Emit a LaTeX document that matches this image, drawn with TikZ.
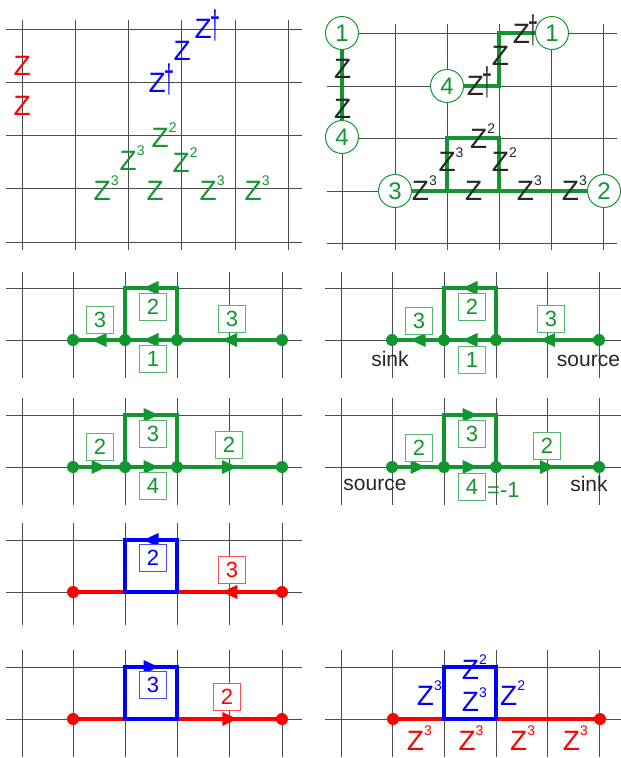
\documentclass[tikz,border=0pt]{standalone}
\usepackage{fontspec}
\setmainfont{Liberation Sans}
\usetikzlibrary{positioning,decorations.markings}
\definecolor{gr}{RGB}{17,150,48}
\newcommand{\Zs}[1]{Z\raisebox{0.52em}{\fontsize{14}{14}\selectfont #1}}
\newcommand{\Zd}{Z\kern-0.04em\scalebox{0.8}[1.8]{\fontsize{22}{22}\selectfont †}}

\begin{document}
\begin{tikzpicture}[x=1pt, y=-1pt,
    gridline/.style={draw=black!70, line width=1pt},
    ztext/.style={inner sep=0pt, anchor=base west, font=\fontsize{28}{28}\selectfont},
    numbox/.style={draw=#1!70, fill=white, text=#1, line width=0.8pt, minimum size=27pt, inner sep=0pt, font=\fontsize{22}{22}\selectfont},
    ring/.style={circle, draw=gr, fill=white, text=gr, line width=1pt, minimum size=33pt, inner sep=0pt, font=\fontsize{24}{24}\selectfont},
    dot/.style={circle, fill=#1, minimum size=12pt, inner sep=0pt},
    lane/.style={draw=#1, color=#1, line width=4.5pt},
    tri/.style={postaction={decorate}, decoration={markings, mark=at position #1 with {\fill (7.5pt,0pt) -- (-7.5pt,7pt) -- (-7.5pt,-7pt) -- cycle;}}},
    tag/.style={inner sep=0pt, anchor=base, font=\fontsize{21}{21}\selectfont, text=black!85}
]
\useasboundingbox (0,0) rectangle (621,758);

% Grids
\foreach \y in {29,82,135,188,242} \draw[gridline] (6,\y) -- (302,\y);
\foreach \x in {22,75,128,181,235,288} \draw[gridline] (\x,20) -- (\x,250);
\foreach \y in {33,86,138,191,243} \draw[gridline] (327,\y) -- (617,\y);
\foreach \x in {342,395,447,499,551,603} \draw[gridline] (\x,24) -- (\x,250);
\foreach \t/\u/\v in {288/272/378, 415/398/505, 540/523/625, 667/650/757} {
    \draw[gridline] (6,\t) -- (302,\t);
    \draw[gridline] (6,\t+52) -- (302,\t+52);
    \foreach \x in {22,73,125,177,229,282} \draw[gridline] (\x,\u) -- (\x,\v);
}
\foreach \t/\u/\v in {288/272/378, 415/398/505, 667/650/757} {
    \draw[gridline] (325,\t) -- (621,\t);
    \draw[gridline] (325,\t+52) -- (621,\t+52);
    \foreach \x in {341,392,444,496,547,599} \draw[gridline] (\x,\u) -- (\x,\v);
}

% Panel A: Z labels
\node[ztext, red] (ar1) at (13.5,75) {Z};
\node[ztext, red] (ar2) at (13.5,115) {Z};
\node[ztext, blue] (ab1) at (148.5,92) {\Zd};
\node[ztext, blue] (ab2) at (173.5,60) {Z};
\node[ztext, blue] (ab3) at (194.5,38) {\Zd};
\node[ztext, gr] (ag1) at (151.5,147) {\Zs{2}};
\node[ztext, gr] (ag2) at (119.5,170) {\Zs{3}};
\node[ztext, gr] (ag3) at (172.5,172) {\Zs{2}};
\node[ztext, gr] (ag4) at (93.5,200) {\Zs{3}};
\node[ztext, gr] (ag5) at (146.5,200) {Z};
\node[ztext, gr] (ag6) at (199.5,200) {\Zs{3}};
\node[ztext, gr] (ag7) at (244.5,200) {\Zs{3}};

% Panel B: glued lattice
\node[ring] (bq1) at (342,33) {1};
\node[ring] (bq4) at (342,137) {4};
\node[ring] (bp4) at (447,86) {4};
\node[ring] (bp1) at (552,33) {1};
\node[ring] (bp3) at (395,191) {3};
\node[ring] (bp2) at (604,191) {2};
\coordinate (bk1) at (499,86);
\coordinate (bk2) at (499,33);
\coordinate (bs1) at (447,191);
\coordinate (bs2) at (447,138);
\coordinate (bs3) at (499,138);
\coordinate (bs4) at (499,191);
\draw[lane=gr] (bq1) -- (bq4);
\draw[lane=gr] (bp4) -- (bk1) -- (bk2) -- (bp1);
\draw[lane=gr] (bp3) -- (bp2);
\draw[lane=gr] (bs1) -- (bs2) -- (bs3) -- (bs4);
\node[ztext, black!85] (bz1) at (334,78) {Z};
\node[ztext, black!85] (bz2) at (334,118) {Z};
\node[ztext, black!85] (bz3) at (466.7,95) {\Zd};
\node[ztext, black!85] (bz4) at (491.7,65) {Z};
\node[ztext, black!85] (bz5) at (512.7,43) {\Zd};
\node[ztext, black!85] (bz6) at (470,148) {\Zs{2}};
\node[ztext, black!85] (bz7) at (438.3,171.7) {\Zs{3}};
\node[ztext, black!85] (bz8) at (491.7,171.7) {\Zs{2}};
\node[ztext, black!85] (bz9) at (411.7,200) {\Zs{3}};
\node[ztext, black!85] (bz10) at (465,200) {Z};
\node[ztext, black!85] (bz11) at (516.7,200) {\Zs{3}};
\node[ztext, black!85] (bz12) at (561.7,200) {\Zs{3}};

% Panel C: flow to the left
\node[dot=gr] (ca) at (73,340) {};
\node[dot=gr] (cb) at (125,340) {};
\node[dot=gr] (cc) at (177,340) {};
\node[dot=gr] (cd) at (282,340) {};
\coordinate (cu1) at (125,288);
\coordinate (cu2) at (177,288);
\draw[lane=gr, tri=0.5] (cd.center) -- (cc.center);
\draw[lane=gr, tri=0.5] (cc.center) -- (cb.center);
\draw[lane=gr, tri=0.5] (cb.center) -- (ca.center);
\draw[lane=gr, tri=0.5] (cc.center) -- (cu2) -- (cu1) -- (cb.center);
\node[numbox=gr] (cn1) at (100,320) {3};
\node[numbox=gr] (cn2) at (153,307) {2};
\node[numbox=gr] (cn3) at (153,359) {1};
\node[numbox=gr] (cn4) at (232,319) {3};

% Panel D: same, with sink and source
\node[dot=gr] (da) at (392,340) {};
\node[dot=gr] (db) at (444,340) {};
\node[dot=gr] (dc) at (496,340) {};
\node[dot=gr] (dd) at (599,340) {};
\coordinate (du1) at (444,288);
\coordinate (du2) at (496,288);
\draw[lane=gr, tri=0.5] (dd.center) -- (dc.center);
\draw[lane=gr, tri=0.5] (dc.center) -- (db.center);
\draw[lane=gr, tri=0.5] (db.center) -- (da.center);
\draw[lane=gr, tri=0.5] (dc.center) -- (du2) -- (du1) -- (db.center);
\node[numbox=gr] (dn1) at (419,321) {3};
\node[numbox=gr] (dn2) at (472,307) {2};
\node[numbox=gr] (dn3) at (472,360) {1};
\node[numbox=gr] (dn4) at (551,319) {3};
\node[tag] (dsink) at (390,366) {sink};
\node[tag] (dsource) at (588.5,366) {source};

% Panel E: flow to the right
\node[dot=gr] (ea) at (73,467) {};
\node[dot=gr] (eb) at (125,467) {};
\node[dot=gr] (ec) at (177,467) {};
\node[dot=gr] (ed) at (282,467) {};
\coordinate (eu1) at (125,415);
\coordinate (eu2) at (177,415);
\draw[lane=gr, tri=0.5] (ea.center) -- (eb.center);
\draw[lane=gr, tri=0.5] (eb.center) -- (ec.center);
\draw[lane=gr, tri=0.5] (ec.center) -- (ed.center);
\draw[lane=gr, tri=0.5] (eb.center) -- (eu1) -- (eu2) -- (ec.center);
\node[numbox=gr] (en1) at (100,447) {2};
\node[numbox=gr] (en2) at (153,434) {3};
\node[numbox=gr] (en3) at (153,486) {4};
\node[numbox=gr] (en4) at (229,445) {2};

% Panel F: same, with source and sink
\node[dot=gr] (fa) at (392,467) {};
\node[dot=gr] (fb) at (444,467) {};
\node[dot=gr] (fc) at (496,467) {};
\node[dot=gr] (fd) at (599,467) {};
\coordinate (fu1) at (444,415);
\coordinate (fu2) at (496,415);
\draw[lane=gr, tri=0.5] (fa.center) -- (fb.center);
\draw[lane=gr, tri=0.5] (fb.center) -- (fc.center);
\draw[lane=gr, tri=0.5] (fc.center) -- (fd.center);
\draw[lane=gr, tri=0.5] (fb.center) -- (fu1) -- (fu2) -- (fc.center);
\node[numbox=gr] (fn1) at (419,448) {2};
\node[numbox=gr] (fn2) at (472,434) {3};
\node[numbox=gr] (fn3) at (472,487) {4};
\node[numbox=gr] (fn4) at (547,446) {2};
\node[inner sep=0pt, anchor=base west, text=gr, font=\fontsize{22}{22}\selectfont] (feq) at (487,497) {=-1};
\node[tag] (fsource) at (375,490) {source};
\node[tag] (fsink) at (589,491) {sink};

% Panel G: red line, blue loop
\node[dot=red] (ga) at (73,592) {};
\node[dot=red] (gd) at (282,592) {};
\coordinate (gs1) at (125,592);
\coordinate (gs2) at (125,540);
\coordinate (gs3) at (177,540);
\coordinate (gs4) at (177,592);
\draw[lane=red, tri=0.25] (gd.center) -- (ga.center);
\draw[lane=blue, tri=0.375] (gs4) -- (gs3) -- (gs2) -- (gs1) -- cycle;
\node[numbox=blue] (gn1) at (153,558) {2};
\node[numbox=red] (gn2) at (232,570) {3};

% Panel H
\node[dot=red] (ha) at (73,719) {};
\node[dot=red] (hd) at (282,719) {};
\coordinate (hs1) at (125,719);
\coordinate (hs2) at (125,667);
\coordinate (hs3) at (177,667);
\coordinate (hs4) at (177,719);
\draw[lane=red, tri=0.75] (ha.center) -- (hd.center);
\draw[lane=blue, tri=0.375] (hs1) -- (hs2) -- (hs3) -- (hs4) -- cycle;
\node[numbox=blue] (hn1) at (153,685) {3};
\node[numbox=red] (hn2) at (227,697) {2};

% Panel I
\node[dot=red] (ia) at (393,719) {};
\node[dot=red] (id) at (600,719) {};
\coordinate (is1) at (444,719);
\coordinate (is2) at (444,667);
\coordinate (is3) at (496,667);
\coordinate (is4) at (496,719);
\draw[lane=red] (ia.center) -- (id.center);
\draw[lane=blue] (is1) -- (is2) -- (is3) -- (is4) -- cycle;
\node[ztext, blue] (ib1) at (461.7,679) {\Zs{2}};
\node[ztext, blue] (ib2) at (416.7,705) {\Zs{3}};
\node[ztext, blue] (ib3) at (461.7,711.7) {\Zs{3}};
\node[ztext, blue] (ib4) at (500,705) {\Zs{2}};
\node[ztext, red] (ir1) at (406.7,750) {\Zs{3}};
\node[ztext, red] (ir2) at (458.3,750) {\Zs{3}};
\node[ztext, red] (ir3) at (510,750) {\Zs{3}};
\node[ztext, red] (ir4) at (562.7,750) {\Zs{3}};
\end{tikzpicture}
\end{document}
